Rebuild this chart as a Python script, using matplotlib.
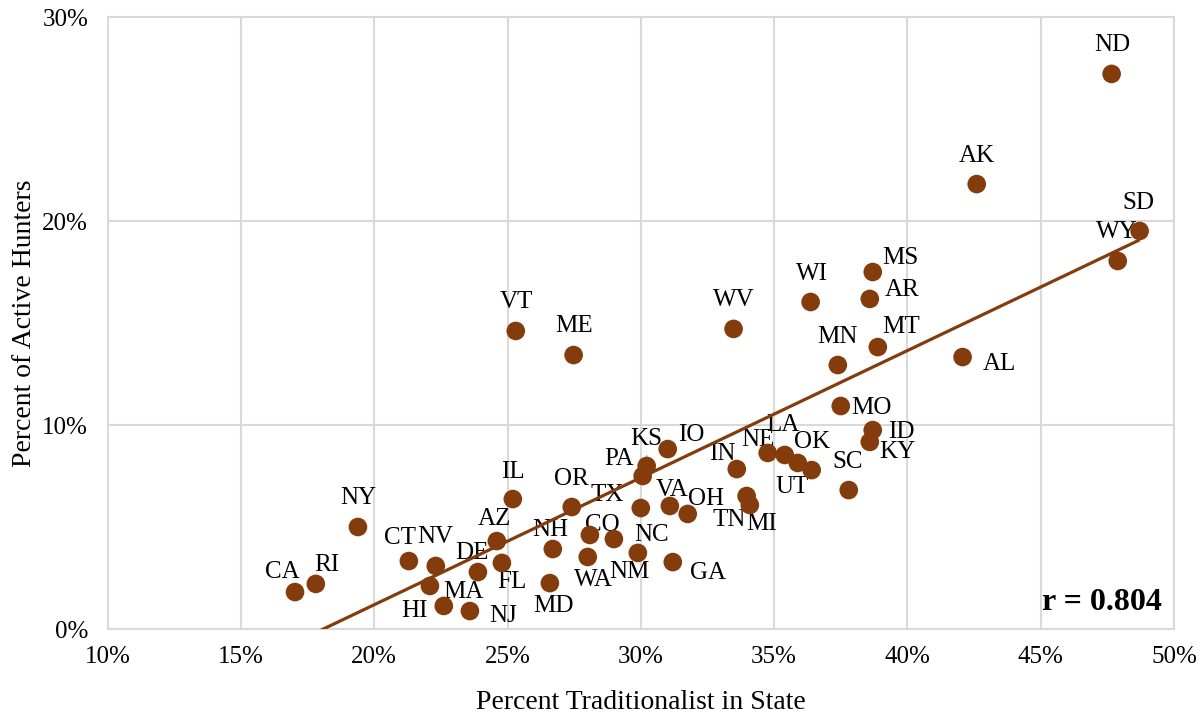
import numpy as np
import matplotlib
matplotlib.use("Agg")
import matplotlib.pyplot as plt
from matplotlib.ticker import FuncFormatter, MultipleLocator

states = ["CA", "RI", "NY", "CT", "NV", "MA", "HI", "NJ", "DE", "FL",
          "AZ", "IL", "NH", "OR", "TX", "CO", "NM", "NC", "WA", "MD",
          "VA", "OH", "GA", "PA", "KS", "IO", "IN", "NE", "LA", "OK",
          "UT", "TN", "MI", "SC", "MO", "ID", "KY", "AL", "MT", "MN",
          "AR", "MS", "WI", "WV", "VT", "ME", "AK", "ND", "SD", "WY"]
traditionalist = [17.03, 17.81, 19.39, 21.30, 22.31, 22.09, 22.61, 23.59, 23.89, 24.79,
                  24.60, 25.20, 26.70, 27.41, 30.00, 28.09, 28.99, 29.89, 28.01, 26.59,
                  31.09, 31.76, 31.20, 30.07, 30.22, 31.01, 33.60, 34.76, 35.40, 36.41,
                  35.89, 33.97, 34.09, 37.80, 37.50, 38.70, 38.59, 42.07, 38.89, 37.39,
                  38.59, 38.70, 36.37, 33.48, 25.31, 27.48, 42.60, 47.66, 48.71, 47.89]
hunters = [1.81, 2.21, 5.00, 3.33, 3.09, 2.11, 1.13, 0.88, 2.79, 3.24,
           4.31, 6.37, 3.92, 5.98, 5.93, 4.61, 4.41, 3.73, 3.53, 2.25,
           6.03, 5.64, 3.28, 7.50, 7.99, 8.82, 7.84, 8.63, 8.53, 7.79,
           8.14, 6.52, 6.08, 6.81, 10.93, 9.75, 9.17, 13.33, 13.82, 12.94,
           16.18, 17.50, 16.03, 14.71, 14.61, 13.43, 21.81, 27.21, 19.51, 18.04]
r_text = "r = 0.804"

# label offsets in pixels (dx right, dy down) relative to each dot
label_offsets = {
    "CA": (-13, -22), "RI": (11, -21), "NY": (0, -31), "CT": (-9, -25), "NV": (-1, -31),
    "MA": (33, 4), "HI": (-29, 3), "NJ": (33, 3), "DE": (-6, -21), "FL": (10, 17),
    "AZ": (-2, -24), "IL": (0, -29), "NH": (-3, -21), "OR": (0, -30), "TX": (-34, -15),
    "CO": (12, -12), "NM": (16, 31), "NC": (14, -20), "WA": (6, 21), "MD": (4, 21),
    "VA": (2, -18), "OH": (18, -17), "GA": (35, 9), "PA": (-24, -19), "KS": (0, -29),
    "IO": (24, -16), "IN": (-14, -17), "NE": (-10, -15), "LA": (-2, -32), "OK": (0, -30),
    "UT": (-6, 22), "TN": (-17, 22), "MI": (12, 17), "SC": (-1, -30), "MO": (31, 0),
    "ID": (29, 0), "KY": (28, 8), "AL": (37, 5), "MT": (23, -22), "MN": (0, -30),
    "AR": (32, -11), "MS": (28, -16), "WI": (1, -30), "WV": (0, -31), "VT": (1, -31),
    "ME": (0, -31), "AK": (0, -30), "ND": (1, -31), "SD": (-1, -30), "WY": (-1, -31),
}

brown = "#843C0C"
grid_col = "#D9D9D9"
plt.rcParams["font.family"] = ["Liberation Serif", "DejaVu Serif"]

W, H, DPI = 1201, 717, 100
fig = plt.figure(figsize=(W / DPI, H / DPI), dpi=DPI)
ax = fig.add_axes([107.6 / W, 1 - 629 / H, (1174 - 107.6) / W, (629 - 17) / H])

x = np.array(traditionalist)
y = np.array(hunters)

ax.scatter(x, y, s=180, color=brown, edgecolors="none", zorder=4)

# linear trendline
slope, intercept = np.polyfit(x, y, 1)
xl = np.array([x.min(), x.max()])
ax.plot(xl, slope * xl + intercept, color=brown, lw=2.3, zorder=3,
        solid_capstyle="butt")

fs_lab = 18
px2pt = 72.0 / DPI
cap_half = 8.2  # px, half of cap height
for s, xi, yi in zip(states, x, y):
    dx, dy = label_offsets[s]
    kw = {}
    if s == "KS":
        kw["arrowprops"] = dict(arrowstyle="-", color="#A6A6A6", lw=1.0,
                                shrinkA=2, shrinkB=0)
    ax.annotate(s, (xi, yi), xytext=(dx * px2pt, -(dy + cap_half) * px2pt),
                textcoords="offset points", ha="center", va="baseline",
                fontsize=fs_lab, color="black", zorder=2, **kw)

ax.set_xlim(10, 50)
ax.set_ylim(0, 30)
ax.xaxis.set_major_locator(MultipleLocator(5))
ax.yaxis.set_major_locator(MultipleLocator(10))
ax.xaxis.set_major_formatter(FuncFormatter(lambda v, p: f"{v:.0f}%"))
ax.yaxis.set_major_formatter(FuncFormatter(lambda v, p: f"{v:.0f}%"))
ax.grid(True, color=grid_col, lw=1.5, zorder=0)
ax.set_axisbelow(True)
for sp in ax.spines.values():
    sp.set_color(grid_col)
    sp.set_linewidth(1.5)
ax.tick_params(axis="x", length=0, labelsize=18, pad=12)
ax.tick_params(axis="y", length=0, labelsize=18, pad=14)

ax.set_xlabel("Percent Traditionalist in State", fontsize=20, labelpad=16)
ax.set_ylabel("Percent of Active Hunters", fontsize=20, labelpad=4)

ax.text(1102, 717 - 602, r_text, transform=None, ha="center", va="center",
        fontsize=23, fontweight="bold")

fig.savefig("out.png", dpi=DPI)
